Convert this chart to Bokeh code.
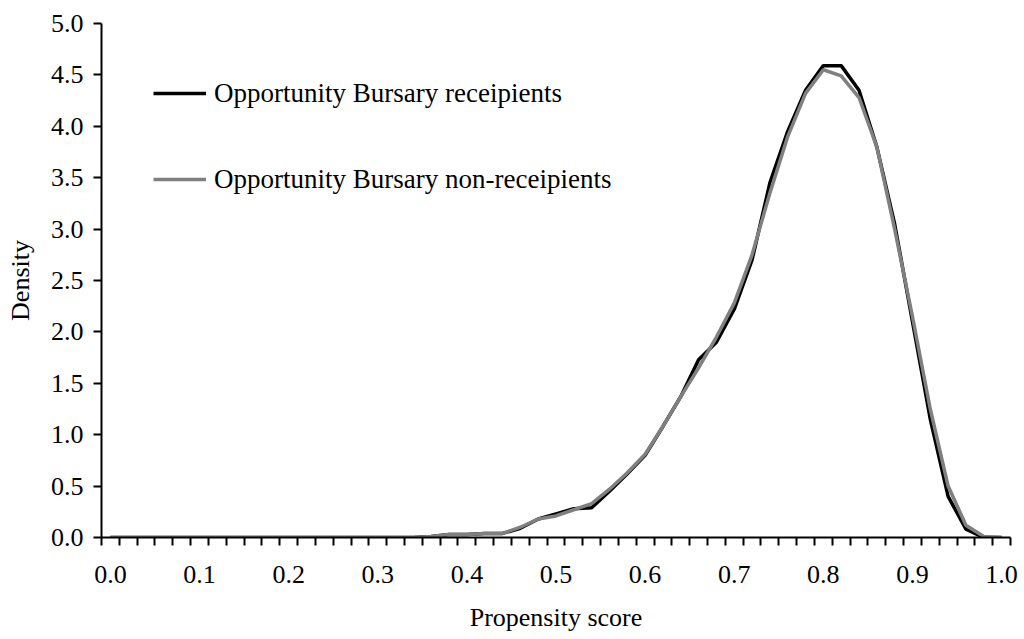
from bokeh.plotting import figure
from bokeh.models import FixedTicker, Range1d, Legend, LegendItem
from bokeh.embed import file_html
from bokeh.resources import INLINE

# Propensity score grid (categories)
scores = [round(0.02 * i, 2) for i in range(51)]

receipients = [0.0] * 18 + [
    0.01, 0.03, 0.03, 0.04, 0.04, 0.09, 0.18, 0.23, 0.28, 0.29,
    0.45, 0.62, 0.80, 1.08, 1.37, 1.73, 1.90, 2.22, 2.70, 3.45,
    3.95, 4.35, 4.59, 4.59, 4.35, 3.80, 3.05, 2.10, 1.15, 0.40,
    0.08, 0.00, 0.00]

non_receipients = [0.0] * 18 + [
    0.01, 0.03, 0.03, 0.04, 0.04, 0.10, 0.18, 0.21, 0.27, 0.33,
    0.47, 0.63, 0.81, 1.08, 1.37, 1.65, 1.95, 2.28, 2.75, 3.35,
    3.90, 4.32, 4.55, 4.49, 4.28, 3.80, 3.00, 2.15, 1.25, 0.50,
    0.12, 0.01, 0.00]

x_labels = [0.0, 0.1, 0.2, 0.3, 0.4, 0.5, 0.6, 0.7, 0.8, 0.9, 1.0]
y_ticks = [0.0, 0.5, 1.0, 1.5, 2.0, 2.5, 3.0, 3.5, 4.0, 4.5, 5.0]

FONT = "Liberation Serif"
FS = "26px"

p = figure(width=1024, height=639, output_backend="svg", toolbar_location=None,
           min_border_left=101, min_border_right=14, min_border_top=23,
           min_border_bottom=102,
           x_range=Range1d(-0.01, 1.01), y_range=Range1d(0, 5.0))

p.outline_line_color = None
p.xgrid.visible = False
p.ygrid.visible = False
p.background_fill_color = "white"
p.border_fill_color = "white"

r1 = p.line(scores, receipients, line_color="black", line_width=3.5)
r2 = p.line(scores, non_receipients, line_color="#808080", line_width=3.5)

# x axis: labels at category centres, tick marks between categories
boundaries = [round(-0.01 + 0.02 * i, 2) for i in range(52)]
p.xaxis.ticker = FixedTicker(ticks=x_labels, minor_ticks=boundaries)
p.xaxis.major_label_overrides = {v: f"{v:.1f}" for v in x_labels}
p.xaxis.major_tick_out = 0
p.xaxis.major_tick_in = 0
p.xaxis.minor_tick_out = 8
p.xaxis.minor_tick_in = 0
p.xaxis.minor_tick_line_color = "black"
p.xaxis.minor_tick_line_width = 2
p.xaxis.axis_line_width = 2
p.xaxis.axis_line_color = "black"
p.xaxis.major_label_standoff = 20
p.xaxis.axis_label = "Propensity score"
p.xaxis.axis_label_standoff = 17

p.yaxis.ticker = FixedTicker(ticks=y_ticks, minor_ticks=[])
p.yaxis.major_label_overrides = {v: f"{v:.1f}" for v in y_ticks}
p.yaxis.major_tick_out = 8
p.yaxis.major_tick_in = 0
p.yaxis.major_tick_line_width = 2
p.yaxis.axis_line_width = 2
p.yaxis.axis_line_color = "black"
p.yaxis.major_label_standoff = 10
p.yaxis.axis_label = "Density"
p.yaxis.axis_label_standoff = 13

for ax in (p.xaxis, p.yaxis):
    ax.major_label_text_font = FONT
    ax.major_label_text_font_size = FS
    ax.major_label_text_color = "black"
    ax.axis_label_text_font = FONT
    ax.axis_label_text_font_size = FS
    ax.axis_label_text_font_style = "normal"
    ax.axis_label_text_color = "black"

legend = Legend(items=[
    LegendItem(label="Opportunity Bursary receipients", renderers=[r1]),
    LegendItem(label="Opportunity Bursary non-receipients", renderers=[r2]),
], location=(52, 342))
legend.border_line_color = None
legend.background_fill_alpha = 0
legend.label_text_font = FONT
legend.label_text_font_size = "27px"
legend.label_text_color = "black"
legend.glyph_width = 53
legend.glyph_height = 32
legend.label_height = 32
legend.label_standoff = 8
legend.spacing = 54
legend.padding = 4
legend.margin = 0
p.add_layout(legend)

open("out.html", "w").write(file_html(p, INLINE))
